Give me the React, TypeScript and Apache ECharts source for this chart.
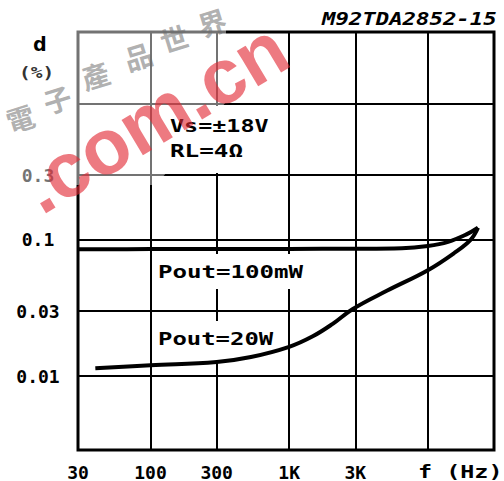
import React, { useEffect, useRef } from 'react';
import * as echarts from 'echarts';

// Axis ticks and labels
const freqTicks = [30, 100, 300, 1000, 3000, 10000];
const freqTickLabels = ['30', '100', '300', '1K', '3K', ''];
const distTicks = [0.01, 0.03, 0.1, 0.3, 1];
const distTickLabels = ['0.01', '0.03', '0.1', '0.3', ''];

// Pout = 100mW curve (frequency Hz, distortion %)
const freq100mW = [30, 100, 300, 1000, 3000, 6500, 10000, 14000, 19000, 23000];
const dist100mW = [0.0855, 0.0857, 0.0858, 0.086, 0.0862, 0.087, 0.0905, 0.097, 0.11, 0.123];

// Pout = 20W curve
const freq20W = [40, 100, 300, 530, 1000, 1480, 2060, 2860, 5100, 10000, 15700, 20400, 23000];
const dist20W = [0.0114, 0.012, 0.0127, 0.0138, 0.0164, 0.0196, 0.0242, 0.031, 0.0425, 0.06, 0.081, 0.1007, 0.123];

const watermarkChars = ['電', '子', '產', '品', '世', '界'];

const MONO = '"DejaVu Sans Mono"';

function tickLabel(v: number, ticks: number[], labels: string[]) {
  for (let i = 0; i < ticks.length; i++) {
    if (Math.abs(Math.log10(v) - Math.log10(ticks[i])) < 1e-6) return labels[i];
  }
  return '';
}

function txt(text: string, x: number, y: number, size: number, scaleX: number, extra: any = {}) {
  return {
    type: 'text',
    x,
    y,
    scaleX,
    z: 20,
    style: {
      text,
      font: `bold ${size}px ${MONO}`,
      fill: '#000',
      align: 'left',
      verticalAlign: 'middle',
      textAlign: 'left',
      textVerticalAlign: 'middle',
      ...extra,
    },
  };
}

export default function App() {
  const ref = useRef<HTMLDivElement>(null);

  useEffect(() => {
    if (!ref.current) return;
    const chart = echarts.init(ref.current, null, { renderer: 'svg' });

    const wmPos = [
      [20, 118],
      [57, 99],
      [95, 75],
      [138, 56],
      [174, 38],
      [212, 22],
    ];

    const option: any = {
      animation: false,
      backgroundColor: '#fff',
      grid: {
        left: 78,
        right: 10,
        top: 32,
        bottom: 31,
        show: true,
        borderColor: '#000',
        borderWidth: 3,
        backgroundColor: 'transparent',
        containLabel: false,
        outerBoundsMode: 'none',
      },
      xAxis: {
        type: 'log',
        logBase: 10,
        min: 30,
        max: 30000,
        axisLine: { show: false },
        axisTick: { show: false, customValues: freqTicks },
        axisLabel: {
          customValues: freqTicks,
          formatter: (v: number) => tickLabel(v, freqTicks, freqTickLabels),
          margin: 13,
          color: '#000',
          fontFamily: MONO,
          fontWeight: 'bold',
          fontSize: 18,
        },
        splitLine: { show: true, lineStyle: { color: '#000', width: 2 } },
        minorSplitLine: { show: false },
      },
      yAxis: {
        type: 'log',
        logBase: 10,
        min: 0.00286,
        max: 3.38,
        axisLine: { show: false },
        axisTick: { show: false, customValues: distTicks },
        axisLabel: {
          customValues: distTicks,
          formatter: (v: number) => tickLabel(v, distTicks, distTickLabels),
          margin: 40,
          align: 'center',
          color: '#000',
          fontFamily: MONO,
          fontWeight: 'bold',
          fontSize: 18,
        },
        splitLine: { show: true, lineStyle: { color: '#000', width: 2 } },
        minorSplitLine: { show: false },
      },
      series: [
        {
          name: 'Pout=100mW',
          type: 'line',
          z: 10,
          smooth: 0.4,
          symbol: 'none',
          lineStyle: { color: '#000', width: 4 },
          data: freq100mW.map((f, i) => [f, dist100mW[i]]),
        },
        {
          name: 'Pout=20W',
          type: 'line',
          z: 10,
          smooth: 0.4,
          symbol: 'none',
          lineStyle: { color: '#000', width: 4 },
          data: freq20W.map((f, i) => [f, dist20W[i]]),
        },
      ],
      graphic: [
        // faint watermark halo over the upper-left cells
        {
          type: 'polygon',
          z: 5,
          silent: true,
          shape: { points: [[0, 28], [226, 28], [226, 102], [156, 185], [0, 185]] },
          style: { fill: 'rgba(255,255,255,0.45)' },
        },
        // white boxes behind annotations
        { type: 'rect', z: 5, shape: { x: 153, y: 106, width: 134, height: 67 }, style: { fill: '#fff' } },
        { type: 'rect', z: 5, shape: { x: 153, y: 254, width: 153, height: 35 }, style: { fill: '#fff' } },
        { type: 'rect', z: 5, shape: { x: 153, y: 321, width: 130, height: 41 }, style: { fill: '#fff' } },
        // title
        txt('M92TDA2852-15', 322, 19, 18, 1.24, { fontStyle: 'italic', font: `italic bold 18px ${MONO}` }),
        // y axis name
        txt('d', 33, 45, 19, 1.2),
        txt('(%)', 19, 73, 15, 1.3, { fill: '#333' }),
        // x axis name
        txt('f (Hz)', 418, 472, 18, 1.3),
        // annotations
        txt('Vs=±18V', 170, 126, 18, 1.3),
        txt('RL=4Ω', 170, 151, 18, 1.35),
        txt('Pout=100mW', 158, 272, 18, 1.34),
        txt('Pout=20W', 158, 339, 18, 1.33),
        // watermark
        ...watermarkChars.map((c, i) => ({
          type: 'text',
          x: wmPos[i][0],
          y: wmPos[i][1],
          rotation: 0.3,
          z: 30,
          silent: true,
          style: {
            text: c,
            font: 'bold 28px "Noto Sans CJK TC"',
            fill: 'rgba(110,110,110,0.55)',
            align: 'center',
            verticalAlign: 'middle',
            textAlign: 'center',
            textVerticalAlign: 'middle',
          },
        })),
        {
          type: 'text',
          x: 154,
          y: 117,
          rotation: 0.54,
          z: 30,
          silent: true,
          style: {
            text: '.com.cn',
            font: 'bold 78px "Liberation Sans"',
            fill: 'rgba(226,40,52,0.62)',
            align: 'center',
            verticalAlign: 'middle',
            textAlign: 'center',
            textVerticalAlign: 'middle',
          },
        },
      ],
    };

    chart.setOption(option);
    return () => chart.dispose();
  }, []);

  return <div ref={ref} style={{ position: 'absolute', left: 0, top: 0, width: 504, height: 481 }} />;
}
